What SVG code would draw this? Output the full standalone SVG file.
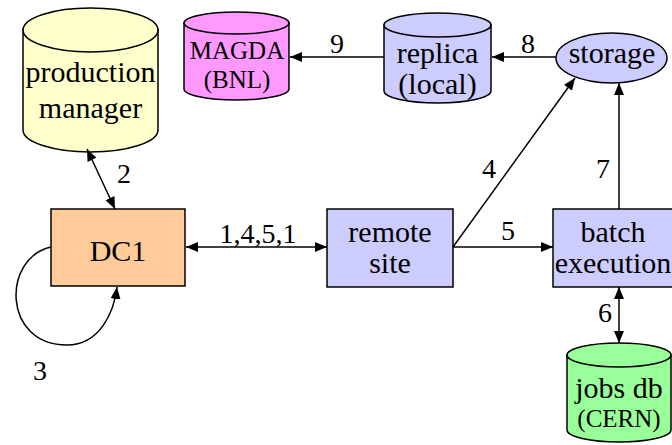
<svg xmlns="http://www.w3.org/2000/svg" width="672" height="445" viewBox="0 0 672 445" font-family="'Liberation Serif', 'Times New Roman', 'DejaVu Serif', serif">
<defs>
<marker id="ah" viewBox="0 0 12 10" refX="12" refY="5" markerWidth="12" markerHeight="10" markerUnits="userSpaceOnUse" orient="auto-start-reverse">
<path d="M0,0 L12,5 L0,10 Z" fill="#000"/>
</marker>
</defs>
<style>
text{font-family:'Liberation Serif','Times New Roman','DejaVu Serif',serif;fill:#000;text-anchor:middle}
.big{font-size:30px}
.mid{font-size:25px}
.lbl{font-size:28px}
.shape{stroke:#000;stroke-width:1.5}
.conn{fill:none;stroke:#000;stroke-width:1.5}
</style>
<rect width="672" height="445" fill="#fff"/>
<g id="production-manager">
<path class="shape" fill="#FFFFCC" d="M23,30 L23,130 A67.5,22 0 0 0 158,130 L158,30 Z"/>
<ellipse class="shape" fill="#FFFFCC" cx="90.5" cy="30" rx="67.5" ry="22"/>
<text class="big" x="90.5" y="82">production</text>
<text class="big" x="90.5" y="118">manager</text>
</g>
<g id="magda">
<path class="shape" fill="#FF99FF" d="M184,23 L184,89 A52.5,11 0 0 0 289,89 L289,23 Z"/>
<ellipse class="shape" fill="#FF99FF" cx="236.5" cy="23" rx="52.5" ry="11"/>
<text class="mid" x="237" y="59">MAGDA</text>
<text class="mid" x="237" y="88">(BNL)</text>
</g>
<g id="replica">
<path class="shape" fill="#CCCCFF" d="M384,25 L384,91 A53.5,12 0 0 0 491,91 L491,25 Z"/>
<ellipse class="shape" fill="#CCCCFF" cx="437.5" cy="25" rx="53.5" ry="12"/>
<text class="big" x="437.5" y="63">replica</text>
<text class="big" x="437.5" y="94">(local)</text>
</g>
<g id="storage">
<ellipse class="shape" fill="#CCCCFF" cx="611.5" cy="58" rx="55.5" ry="25"/>
<text class="big" x="612" y="63">storage</text>
</g>
<g id="dc1">
<rect class="shape" fill="#FFCC99" x="51" y="209" width="134" height="77"/>
<text class="big" x="118" y="261">DC1</text>
</g>
<g id="remote-site">
<rect class="shape" fill="#CCCCFF" x="327" y="209" width="126" height="78"/>
<text class="big" x="390" y="242">remote</text>
<text class="big" x="390" y="273">site</text>
</g>
<g id="batch-execution">
<rect class="shape" fill="#CCCCFF" x="553" y="209" width="135" height="78"/>
<text class="big" x="613" y="242">batch</text>
<text class="big" x="613" y="273">execution</text>
</g>
<g id="jobs-db">
<path class="shape" fill="#99FF99" d="M567,355 L567,430 A52,12 0 0 0 671,430 L671,355 Z"/>
<ellipse class="shape" fill="#99FF99" cx="619" cy="355" rx="52" ry="12"/>
<text class="big" x="619" y="398">jobs db</text>
<text class="mid" x="619" y="427">(CERN)</text>
</g>
<g id="connectors">
<line class="conn" x1="384" y1="57" x2="290" y2="57" marker-end="url(#ah)"/>
<line class="conn" x1="556" y1="57" x2="492" y2="57" marker-end="url(#ah)"/>
<line class="conn" x1="87" y1="149" x2="115" y2="209" marker-start="url(#ah)" marker-end="url(#ah)"/>
<line class="conn" x1="186" y1="247" x2="327" y2="247" marker-start="url(#ah)" marker-end="url(#ah)"/>
<line class="conn" x1="453" y1="247" x2="575" y2="78" marker-end="url(#ah)"/>
<line class="conn" x1="453" y1="247" x2="553" y2="247" marker-end="url(#ah)"/>
<line class="conn" x1="619" y1="209" x2="619" y2="83" marker-end="url(#ah)"/>
<line class="conn" x1="619" y1="287" x2="619" y2="343" marker-start="url(#ah)" marker-end="url(#ah)"/>
<path class="conn" d="M51,247 C2,258 2,345 67,345 C100,345 114,312 117,287" marker-end="url(#ah)"/>
<text class="lbl" x="337" y="53">9</text>
<text class="lbl" x="528" y="53">8</text>
<text class="lbl" x="124" y="183">2</text>
<text class="lbl" x="258" y="243">1,4,5,1</text>
<text class="lbl" x="489" y="178">4</text>
<text class="lbl" x="508" y="240">5</text>
<text class="lbl" x="603" y="178">7</text>
<text class="lbl" x="605" y="322">6</text>
<text class="lbl" x="40" y="380">3</text>
</g>
</svg>
